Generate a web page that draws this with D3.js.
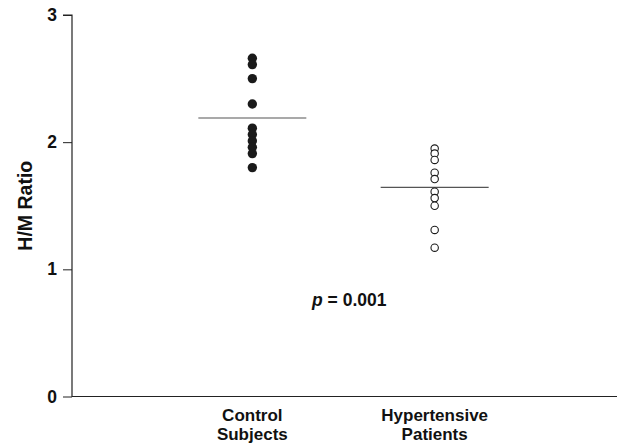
<!DOCTYPE html>
<html><head><meta charset="utf-8">
<script src="https://cdn.jsdelivr.net/npm/d3@7"></script>
<style>body{margin:0;background:#fff}svg{display:block}text{font-family:"Liberation Sans",Arial,sans-serif;font-weight:bold}</style>
</head><body>
<svg id="c" width="618" height="447"></svg>
<script>
const groups = ["Control Subjects", "Hypertensive Patients"];
const groupLines = [["Control", "Subjects"], ["Hypertensive", "Patients"]];
const controlValues = [2.66, 2.61, 2.50, 2.30, 2.11, 2.06, 2.01, 1.96, 1.91, 1.80];
const hypertensiveValues = [1.95, 1.91, 1.86, 1.76, 1.71, 1.61, 1.56, 1.50, 1.31, 1.17];
const means = [2.19, 1.645];
const yTicks = [0, 1, 2, 3];
const pLabel = "0.001";

const svg = d3.select("#c");
const y = d3.scaleLinear().domain([0, 3]).range([396.5, 15]);
// centers: Control ~252, Hypertensive ~435
const xc = d3.scalePoint().domain(["", ...groups, " "]).range([70, 617]);

const yAxis = d3.axisLeft(y).tickValues(yTicks).tickFormat(d3.format("d")).tickSize(9).tickPadding(6);
const ga = svg.append("g").attr("transform", "translate(72,0)").call(yAxis);
ga.select(".domain").attr("d", `M-9,${y(3)}H0V${y(0)}H545`).attr("stroke", "#222").attr("stroke-width", 1.2);
ga.selectAll(".tick line").attr("stroke", "#222");
ga.selectAll(".tick text").attr("font-size", 17.5).attr("fill", "#111").attr("font-family", "Liberation Sans, Arial, sans-serif").attr("font-weight", "bold");

svg.append("text").attr("transform", `translate(32,${(y(0)+y(3))/2}) rotate(-90)`)
  .attr("text-anchor", "middle").attr("font-size", 19.5).attr("fill", "#111").text("H/M Ratio");

const cx = [xc(groups[0]), xc(groups[1])];

// mean lines
svg.selectAll(".mean").data(means).join("line")
  .attr("x1", (d, i) => cx[i] - 54).attr("x2", (d, i) => cx[i] + 54)
  .attr("y1", d => y(d)).attr("y2", d => y(d))
  .attr("stroke", "#555").attr("stroke-width", 1.2);

svg.append("g").selectAll("circle").data(controlValues).join("circle")
  .attr("cx", cx[0]).attr("cy", d => y(d)).attr("r", 4.7).attr("fill", "#1a1a1a");
svg.append("g").selectAll("circle").data(hypertensiveValues).join("circle")
  .attr("cx", cx[1]).attr("cy", d => y(d)).attr("r", 3.7).attr("fill", "#fff").attr("stroke", "#1a1a1a").attr("stroke-width", 1.1);

// category labels
groupLines.forEach((lines, i) => {
  const t = svg.append("text").attr("text-anchor", "middle").attr("font-size", 17).attr("fill", "#111");
  lines.forEach((l, j) => t.append("tspan").attr("x", cx[i]).attr("y", 421 + j * 19).text(l));
});

const pt = svg.append("text").attr("x", 312).attr("y", 306).attr("font-size", 17.5).attr("fill", "#111");
pt.append("tspan").attr("font-style", "italic").text("p");
pt.append("tspan").text(" = " + pLabel);
</script>
</body></html>
